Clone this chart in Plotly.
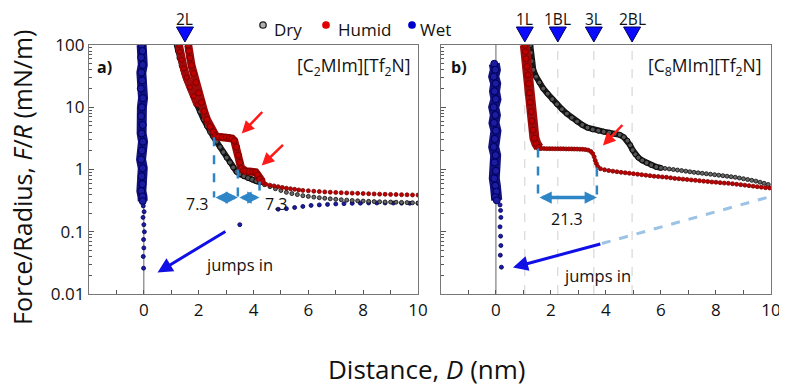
import plotly.graph_objects as go

# ---------------- data ----------------
# Panel a) [C2MIm][Tf2N]
a_dry_dense_x = [1.2, 1.25, 1.3, 1.38, 1.47, 1.57, 1.68, 1.8, 1.93, 2.05, 2.18, 2.3, 2.42, 2.53, 2.65, 2.78, 2.9, 3.02, 3.14, 3.26, 3.38, 3.5, 3.65, 3.8, 3.95, 4.1, 4.25]
a_dry_dense_y = [100, 80, 62, 47, 36, 27, 20, 15, 11, 8.5, 6.4, 5.0, 4.0, 3.4, 2.8, 2.3, 1.9, 1.55, 1.3, 1.08, 0.92, 0.84, 0.78, 0.73, 0.69, 0.65, 0.62]
a_dry_tail_x = [4.4, 4.6, 4.8, 5.0, 5.2, 5.4, 5.6, 5.8, 6.0, 6.2, 6.4, 6.6, 6.8, 7.0, 7.2, 7.4, 7.6, 7.8, 8.0, 8.2, 8.4, 8.6, 8.8, 9.0, 9.2, 9.4, 9.6, 9.8, 10.0]
a_dry_tail_y = [0.57, 0.53, 0.49, 0.46, 0.43, 0.41, 0.395, 0.38, 0.37, 0.36, 0.352, 0.345, 0.338, 0.332, 0.327, 0.322, 0.318, 0.314, 0.311, 0.308, 0.305, 0.303, 0.301, 0.3, 0.298, 0.296, 0.294, 0.292, 0.29]

a_hum_left_x = [1.28, 1.32, 1.38, 1.46, 1.56, 1.68, 1.82, 1.96]
a_hum_left_y = [100, 78, 58, 42, 30, 21, 15, 11]
a_hum_dense_x = [1.62, 1.64, 1.68, 1.74, 1.82, 1.9, 2.0, 2.1, 2.2, 2.3, 2.42, 2.53, 2.62, 2.72, 2.85, 3.0, 3.12, 3.22, 3.3, 3.38, 3.45, 3.5, 3.55, 3.62, 3.72, 3.85, 3.97, 4.08, 4.15, 4.22, 4.32]
a_hum_dense_y = [100, 80, 62, 47, 35, 25, 17, 12, 8.6, 6.4, 4.9, 4.0, 3.5, 3.35, 3.3, 3.3, 3.25, 3.15, 2.9, 2.3, 1.7, 1.3, 1.05, 0.96, 0.94, 0.93, 0.92, 0.9, 0.82, 0.7, 0.64]
a_hum_tail_x = [4.45, 4.6, 4.75, 4.9, 5.05, 5.2, 5.35, 5.5, 5.65, 5.8, 6.0, 6.2, 6.4, 6.6, 6.8, 7.0, 7.2, 7.4, 7.6, 7.8, 8.0, 8.2, 8.4, 8.6, 8.8, 9.0, 9.2, 9.4, 9.6, 9.8, 10.0]
a_hum_tail_y = [0.58, 0.56, 0.545, 0.53, 0.515, 0.5, 0.49, 0.48, 0.47, 0.462, 0.455, 0.448, 0.442, 0.437, 0.432, 0.428, 0.424, 0.42, 0.417, 0.414, 0.411, 0.408, 0.405, 0.402, 0.4, 0.398, 0.396, 0.394, 0.392, 0.39, 0.388]

a_wet_dense_x = [-0.08, -0.05, -0.1, -0.04, -0.09, -0.06, -0.11, -0.03, -0.07, -0.1, -0.04, -0.08, -0.03, -0.07, -0.1, -0.04, -0.08, -0.05, -0.09, -0.05, -0.04]
a_wet_dense_y = [100, 80, 63, 48, 36, 27, 20, 14, 10, 7.2, 5.2, 3.8, 2.8, 2.0, 1.45, 1.05, 0.78, 0.58, 0.45, 0.37, 0.31]
a_wet_sparse_x = [-0.02, 0.01, -0.03, 0.0, 0.02, -0.01, 0.0, -0.02, -0.01, 3.5]
a_wet_sparse_y = [0.26, 0.21, 0.17, 0.13, 0.1, 0.075, 0.055, 0.04, 0.026, 0.13]
a_wet_tail_x = [4.9, 5.2, 5.5, 5.8, 6.1, 6.4, 6.7, 7.0, 7.3, 7.6, 7.9, 8.2, 8.5, 8.8, 9.1, 9.4, 9.7, 10.0]
a_wet_tail_y = [0.23, 0.235, 0.245, 0.255, 0.265, 0.27, 0.275, 0.28, 0.283, 0.286, 0.288, 0.29, 0.29, 0.29, 0.289, 0.288, 0.287, 0.286]

# Panel b) [C8MIm][Tf2N]
b_dry_dense_x = [1.25, 1.27, 1.3, 1.36, 1.46, 1.58, 1.72, 1.88, 2.05, 2.22, 2.4, 2.58, 2.76, 2.95, 3.14, 3.33, 3.52, 3.72, 3.92, 4.12, 4.32, 4.5, 4.65, 4.78, 4.88, 4.97, 5.07, 5.18, 5.32, 5.48, 5.65, 5.83, 6.0]
b_dry_dense_y = [100, 75, 55, 40, 31, 25, 20, 16.5, 13.5, 11.2, 9.3, 7.9, 6.8, 5.9, 5.2, 4.7, 4.4, 4.2, 4.05, 3.9, 3.75, 3.6, 3.3, 2.9, 2.45, 2.05, 1.75, 1.55, 1.4, 1.28, 1.18, 1.1, 1.06]
b_dry_tail_x = [6.15, 6.3, 6.45, 6.6, 6.75, 6.9, 7.05, 7.2, 7.35, 7.5, 7.65, 7.8, 7.95, 8.1, 8.25, 8.4, 8.55, 8.7, 8.85, 9.0, 9.15, 9.3, 9.45, 9.6, 9.75, 9.9]
b_dry_tail_y = [1.04, 1.02, 1.0, 0.98, 0.96, 0.94, 0.92, 0.9, 0.885, 0.87, 0.855, 0.84, 0.825, 0.81, 0.795, 0.78, 0.765, 0.75, 0.73, 0.71, 0.69, 0.67, 0.65, 0.625, 0.6, 0.575]

b_hum_dense_x = [1.05, 1.07, 1.1, 1.13, 1.16, 1.19, 1.22, 1.25, 1.28, 1.31, 1.35, 1.4, 1.47, 1.56]
b_hum_dense_y = [100, 78, 60, 45, 33, 24, 17, 12, 8.5, 6.0, 4.3, 3.2, 2.6, 2.25]
b_hum_tail_x = [1.65, 1.75, 1.85, 1.95, 2.05, 2.15, 2.25, 2.35, 2.45, 2.55, 2.65, 2.75, 2.85, 2.95, 3.05, 3.15, 3.25, 3.35, 3.45, 3.52, 3.57, 3.61, 3.65, 3.7, 3.8, 3.95, 4.1, 4.25, 4.4, 4.55, 4.7, 4.85, 5.0, 5.15, 5.3, 5.45, 5.6, 5.75, 5.9, 6.05, 6.2, 6.35, 6.5, 6.65, 6.8, 6.95, 7.1, 7.25, 7.4, 7.55, 7.7, 7.85, 8.0, 8.15, 8.3, 8.45, 8.6, 8.75, 8.9, 9.05, 9.2, 9.35, 9.5, 9.65, 9.8, 9.95]
b_hum_tail_y = [2.18, 2.17, 2.16, 2.16, 2.16, 2.15, 2.15, 2.15, 2.15, 2.14, 2.14, 2.14, 2.13, 2.13, 2.12, 2.11, 2.09, 2.05, 1.95, 1.8, 1.6, 1.4, 1.25, 1.12, 1.03, 0.99, 0.96, 0.94, 0.92, 0.9, 0.885, 0.87, 0.855, 0.84, 0.825, 0.81, 0.795, 0.78, 0.77, 0.76, 0.75, 0.735, 0.72, 0.71, 0.7, 0.69, 0.68, 0.67, 0.66, 0.65, 0.64, 0.63, 0.625, 0.615, 0.605, 0.6, 0.59, 0.58, 0.57, 0.56, 0.55, 0.54, 0.53, 0.52, 0.51, 0.505]

b_wet_dense_x = [-0.06, -0.02, -0.08, -0.01, -0.05, 0.0, -0.08, -0.02, -0.07, 0.0, -0.04, -0.08, -0.01, -0.05, 0.0, -0.06, -0.02, 0.02, -0.03, 0.03]
b_wet_dense_y = [50, 40, 31, 24, 18, 13.5, 10, 7.5, 5.6, 4.2, 3.1, 2.3, 1.7, 1.3, 0.95, 0.72, 0.55, 0.44, 0.36, 0.32]
b_wet_sparse_x = [0.15, 0.17, 0.18, 0.15, 0.17, 0.18, 0.16, 0.2]
b_wet_sparse_y = [0.27, 0.22, 0.17, 0.12, 0.085, 0.06, 0.042, 0.027]

# Layer markers (triangles)
a_layer_x = [1.5]
a_layer_lbl = ["2L"]
b_layer_x = [1.05, 2.25, 3.56, 4.95]
b_layer_lbl = ["1L", "1BL", "3L", "2BL"]

# Step annotations (steps in humid curves)
a_step_x = [2.56, 3.43, 4.22]
a_step_top = [3.3, 1.0, 0.64]
a_step_lbl = ["7.3", "7.3"]
b_step_x = [1.53, 3.67]
b_step_top = [2.17, 1.08]
b_step_lbl = ["21.3"]
step_base = 0.355

# jump-in extrapolation line in panel b
b_jump_x = [3.85, 10.0]
b_jump_y = [0.0646, 0.37]

# legend
legend_names = ["Dry", "Humid", "Wet"]

# ---------------- figure ----------------
import math
FONT = "Open Sans"
DRY_FILL, DRY_EDGE, DRY_BAND = "#555555", "#0a0a0a", "#1a1a1a"
HUM_FILL, HUM_EDGE, HUM_BAND = "#c00000", "#7a0000", "#a00a0a"
WET_FILL, WET_EDGE, WET_BAND = "#1c1ca0", "#00005a", "#10107e"
STEP_C = "#2f86c6"
TXT = "#111111"

# page body has an 8px margin: plot area sits at x 89..771, y 45..294 of the window
PL, PT, PW, PH = 89, 45, 682, 249
def px_x(p):
    return (p - PL) / PW
def px_y(p):
    return (PT + PH - p) / PH

fig = go.Figure()

def band(x, y, xa, ya, lc, lw, fc, ec, ms):
    fig.add_trace(go.Scatter(x=x, y=y, xaxis=xa, yaxis=ya, mode="lines+markers",
                             line=dict(color=lc, width=lw),
                             marker=dict(size=ms, color=fc, line=dict(color=ec, width=1)),
                             showlegend=False, hoverinfo="skip"))

def dots(x, y, xa, ya, fc, ec, ms):
    fig.add_trace(go.Scatter(x=x, y=y, xaxis=xa, yaxis=ya, mode="markers",
                             marker=dict(size=ms, color=fc, line=dict(color=ec, width=0.8)),
                             showlegend=False, hoverinfo="skip"))

# panel a
dots(a_wet_tail_x, a_wet_tail_y, "x", "y", WET_FILL, WET_EDGE, 4)
band(a_dry_dense_x, a_dry_dense_y, "x", "y", DRY_BAND, 6, DRY_FILL, DRY_EDGE, 5)
dots(a_dry_tail_x, a_dry_tail_y, "x", "y", "#6a6a6a", DRY_EDGE, 4)
band(a_hum_left_x, a_hum_left_y, "x", "y", HUM_BAND, 8, HUM_FILL, HUM_EDGE, 5)
band(a_hum_dense_x, a_hum_dense_y, "x", "y", HUM_BAND, 8, HUM_FILL, HUM_EDGE, 6)
dots(a_hum_tail_x, a_hum_tail_y, "x", "y", HUM_FILL, HUM_EDGE, 4)
band(a_wet_dense_x, a_wet_dense_y, "x", "y", WET_BAND, 10, WET_FILL, WET_EDGE, 7)
dots(a_wet_sparse_x, a_wet_sparse_y, "x", "y", WET_FILL, WET_EDGE, 4)

# panel b
band(b_dry_dense_x, b_dry_dense_y, "x2", "y2", DRY_BAND, 6, DRY_FILL, DRY_EDGE, 5)
dots(b_dry_tail_x, b_dry_tail_y, "x2", "y2", "#6a6a6a", DRY_EDGE, 4)
band(b_hum_dense_x, b_hum_dense_y, "x2", "y2", HUM_BAND, 10, HUM_FILL, HUM_EDGE, 6)
dots(b_hum_tail_x, b_hum_tail_y, "x2", "y2", HUM_FILL, HUM_EDGE, 4)
band(b_wet_dense_x, b_wet_dense_y, "x2", "y2", WET_BAND, 11, WET_FILL, WET_EDGE, 7)
dots(b_wet_sparse_x, b_wet_sparse_y, "x2", "y2", WET_FILL, WET_EDGE, 4)

# step markers (dashed verticals)
for xs, tops, xa, ya in [(a_step_x, a_step_top, "x", "y"), (b_step_x, b_step_top, "x2", "y2")]:
    for xv, tv in zip(xs, tops):
        fig.add_trace(go.Scatter(x=[xv, xv], y=[tv, step_base], xaxis=xa, yaxis=ya, mode="lines",
                                 line=dict(color=STEP_C, width=2.5, dash="dash"),
                                 showlegend=False, hoverinfo="skip"))

# light-blue dashed jump line
fig.add_trace(go.Scatter(x=b_jump_x, y=b_jump_y, xaxis="x2", yaxis="y2", mode="lines",
                         line=dict(color="#9cc2e5", width=3, dash="dash"),
                         showlegend=False, hoverinfo="skip"))

ann = []
def A(**k):
    ann.append(k)

shapes = []

# layer triangles (pixel-sized paths anchored at data x, above the frame) + labels
for xs, lbls, xr in [(a_layer_x, a_layer_lbl, "x"), (b_layer_x, b_layer_lbl, "x2")]:
    for xv, t in zip(xs, lbls):
        shapes.append(dict(type="path", xref=xr, yref="paper", xsizemode="pixel", ysizemode="pixel",
                           xanchor=xv, yanchor=1, path="M -8.5,18 L 8.5,18 L 0,3 Z",
                           fillcolor="#0a0aff", line=dict(color="#000060", width=1)))
        A(x=xv, y=px_y(18.5), xref=xr, yref="paper", text=t, showarrow=False,
          font=dict(size=15.5, color=TXT), xanchor="center", yanchor="middle")

# manual legend
leg_marker_x = [263, 326, 412]
leg_text_x = [272, 336, 418]
leg_cols = [("#b0b0b0", "#222222"), ("#e00000", "#e00000"), ("#0000cc", "#0000cc")]
for name, mx, tx, (fc, ec) in zip(legend_names, leg_marker_x, leg_text_x, leg_cols):
    shapes.append(dict(type="circle", xref="paper", yref="paper", xsizemode="pixel", ysizemode="pixel",
                       xanchor=px_x(mx), yanchor=px_y(25), x0=-3.2, x1=3.2, y0=-3.2, y1=3.2,
                       fillcolor=fc, line=dict(color=ec, width=1.3)))
    A(x=px_x(tx), y=px_y(29), xref="paper", yref="paper", text=name, showarrow=False,
      font=dict(size=17, color=TXT), xanchor="left", yanchor="middle")

# panel labels
A(x=0.018, y=0.912, xref="x domain", yref="y domain", text="<b>a)</b>", showarrow=False,
  font=dict(size=16, color=TXT), xanchor="left", yanchor="middle")
A(x=0.024, y=0.912, xref="x2 domain", yref="y2 domain", text="<b>b)</b>", showarrow=False,
  font=dict(size=16, color=TXT), xanchor="left", yanchor="middle")
A(x=0.985, y=0.912, xref="x domain", yref="y domain", text="[C<sub>2</sub>MIm][Tf<sub>2</sub>N]",
  showarrow=False, font=dict(size=17.5, color=TXT), xanchor="right", yanchor="middle")
A(x=0.978, y=0.912, xref="x2 domain", yref="y2 domain", text="[C<sub>8</sub>MIm][Tf<sub>2</sub>N]",
  showarrow=False, font=dict(size=17.5, color=TXT), xanchor="right", yanchor="middle")

# red arrows
for (tx, ty, hx, hy, xr, yr) in [(4.37, 0.948, 3.57, 0.578, "x", "y"),
                                 (5.13, 0.418, 4.30, 0.064, "x", "y"),
                                 (4.65, 0.739, 3.89, 0.386, "x2", "y2")]:
    A(x=hx, y=hy, ax=tx, ay=ty, xref=xr, yref=yr, axref=xr, ayref=yr, text="", showarrow=True,
      arrowhead=2, arrowsize=1.0, arrowwidth=2.5, arrowcolor="#ff1a1a")

# blue jump arrows + text
for (tx, ty, hx, hy, xr, yr) in [(3.03, -0.98, 0.5, -1.655, "x", "y"),
                                 (3.85, -1.19, 0.62, -1.574, "x2", "y2")]:
    A(x=hx, y=hy, ax=tx, ay=ty, xref=xr, yref=yr, axref=xr, ayref=yr, text="", showarrow=True,
      arrowhead=2, arrowsize=1.0, arrowwidth=3, arrowcolor="#1010e6")
A(x=3.5, y=-1.53, xref="x", yref="y", text="jumps in", showarrow=False, font=dict(size=16.5, color=TXT))
A(x=3.71, y=-1.70, xref="x2", yref="y2", text="jumps in", showarrow=False, font=dict(size=16.5, color=TXT))

# step double arrows + labels
base_log = math.log10(step_base)
for xs, xr, yr in [(a_step_x, "x", "y"), (b_step_x, "x2", "y2")]:
    for x0, x1 in zip(xs[:-1], xs[1:]):
        A(x=x1, y=base_log, ax=x0, ay=base_log, xref=xr, yref=yr, axref=xr, ayref=yr, text="",
          showarrow=True, arrowhead=2, arrowside="end+start", arrowsize=0.7, arrowwidth=3.5,
          arrowcolor=STEP_C, standoff=0, startstandoff=0)
A(x=1.95, y=-0.55, xref="x", yref="y", text=a_step_lbl[0], showarrow=False, font=dict(size=16, color=TXT))
A(x=4.84, y=-0.55, xref="x", yref="y", text=a_step_lbl[1], showarrow=False, font=dict(size=16, color=TXT))
A(x=2.6, y=-0.79, xref="x2", yref="y2", text=b_step_lbl[0], showarrow=False, font=dict(size=16, color=TXT))

# axis titles
A(x=px_x(22), y=px_y(178), xref="paper", yref="paper", text="Force/Radius, <i>F</i>/<i>R</i> (mN/m)",
  textangle=-90, showarrow=False, font=dict(size=25, color=TXT), xanchor="center", yanchor="middle")
A(x=px_x(427), y=px_y(369), xref="paper", yref="paper", text="Distance, <i>D</i> (nm)",
  showarrow=False, font=dict(size=26, color=TXT), xanchor="center", yanchor="middle")

# x = 0 reference lines
for xr, yr in [("x", "y domain"), ("x2", "y2 domain")]:
    shapes.append(dict(type="line", xref=xr, yref=yr, x0=0, x1=0, y0=0, y1=1,
                       line=dict(color="#666666", width=1), layer="below"))
# grey dashed layer guides in panel b
for xv in b_layer_x:
    shapes.append(dict(type="line", xref="x2", yref="y2 domain", x0=xv, x1=xv, y0=0, y1=1,
                       line=dict(color="#cfcfcf", width=1, dash="dash"), layer="below"))

minor_vals = [m * 10 ** e for e in range(-2, 2) for m in range(2, 10)]
xax = dict(range=[-2, 10], tickvals=[0, 2, 4, 6, 8, 10], ticks="inside", ticklen=4,
           tickcolor="#555", showline=True, linecolor="#777", linewidth=1.3, mirror=True,
           showgrid=False, zeroline=False, tickfont=dict(size=17, color=TXT),
           minor=dict(dtick=1, ticks="inside", ticklen=4, tickcolor="#555", showgrid=False))
yax = dict(type="log", range=[-2, 2], tickvals=[0.01, 0.1, 1, 10, 100],
           ticks="inside", ticklen=5, tickcolor="#555",
           showline=True, linecolor="#777", linewidth=1.3, mirror=True, showgrid=False, zeroline=False,
           tickfont=dict(size=17, color=TXT),
           minor=dict(tickvals=minor_vals, ticks="inside", ticklen=3, tickcolor="#555", showgrid=False))

fig.update_layout(
    width=779, height=378,
    margin=dict(l=PL - 8, r=16, t=PT - 8, b=378 + 8 - (PT + PH), autoexpand=False),
    paper_bgcolor="white", plot_bgcolor="white",
    font=dict(family=FONT, color=TXT),
    xaxis=dict(domain=[0, 0.4824], anchor="y", **xax),
    xaxis2=dict(domain=[0.516, 1], anchor="y2", **xax),
    yaxis=dict(domain=[0, 1], anchor="x", ticktext=["0.01", "0.1", "1", "10", "100"], **yax),
    yaxis2=dict(domain=[0, 1], anchor="x2", showticklabels=False, **yax),
    showlegend=False,
    annotations=ann, shapes=shapes,
)

fig.write_html("out.html")
